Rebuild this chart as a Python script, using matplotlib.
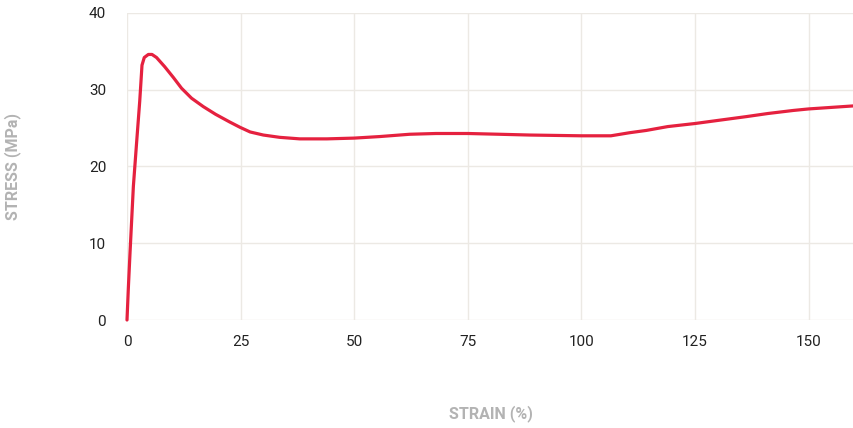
import matplotlib
matplotlib.use("Agg")
import matplotlib.pyplot as plt

# Stress-strain curve
strain = [0, 0.3, 0.66, 1.4, 2.1, 2.8, 3.1, 3.3, 3.8, 4.7, 5.5, 6.5, 8.3, 10.2,
          12.0, 14.2, 16.8, 19.5, 22.6, 24.9, 27.1, 30, 33.6, 38, 44, 50, 55.6,
          62.2, 68, 75, 82, 88.6, 100, 106.5, 110.6, 114.3, 119, 125, 130,
          136.3, 141, 146.6, 150, 155, 160]
stress = [0, 4.2, 8.7, 17.4, 23.0, 28.5, 31.3, 33.2, 34.2, 34.6, 34.6, 34.2,
          33.0, 31.6, 30.2, 28.9, 27.8, 26.8, 25.8, 25.1, 24.5, 24.1, 23.8,
          23.6, 23.6, 23.7, 23.9, 24.2, 24.3, 24.3, 24.2, 24.1, 24.0, 24.0,
          24.4, 24.7, 25.2, 25.6, 26.0, 26.5, 26.9, 27.3, 27.5, 27.7, 27.9]

x_ticks = [0, 25, 50, 75, 100, 125, 150]
y_ticks = [0, 10, 20, 30, 40]

plt.rcParams['font.family'] = ['Roboto', 'DejaVu Sans']

fig = plt.figure(figsize=(8.54, 4.28), dpi=100)
ax = fig.add_axes([127 / 854, 1 - 320 / 428, 1 - 127 / 854, (320 - 13) / 428])

ax.plot(strain, stress, color='#e5213f', lw=2.3, solid_capstyle='round',
        solid_joinstyle='round', clip_on=False, zorder=3)

ax.set_xlim(0, 160)
ax.set_ylim(0, 40)
ax.set_xticks(x_ticks)
ax.set_yticks(y_ticks)
ax.grid(True, color='#ece9e4', lw=1)
ax.set_axisbelow(True)
for s in ax.spines.values():
    s.set_visible(False)
ax.tick_params(length=0, labelsize=11, labelcolor='#222222')
ax.tick_params(axis='x', pad=11)
ax.tick_params(axis='y', pad=15)

fig.text(491 / 854, 1 - 414 / 428, 'STRAIN (%)', ha='center', va='center',
         fontsize=11.5, fontweight='bold', color='#b3b3b3')
fig.text(13 / 854, 1 - 166 / 428, 'STRESS (MPa)', ha='center', va='center',
         rotation=90, fontsize=11.5, fontweight='bold', color='#b3b3b3')

fig.savefig('out.png', dpi=100)
